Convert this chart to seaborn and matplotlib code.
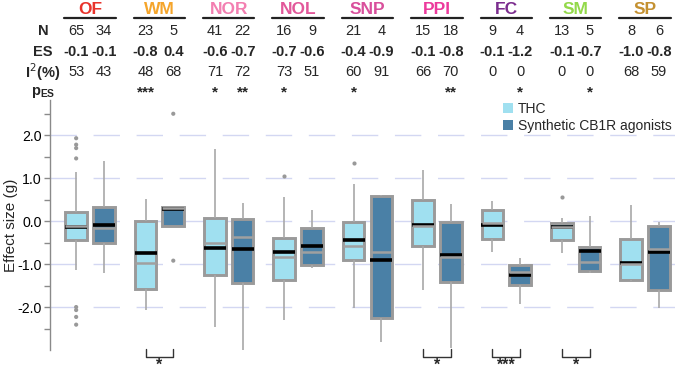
import numpy as np
import pandas as pd
import matplotlib
matplotlib.use("Agg")
import matplotlib.pyplot as plt
import matplotlib.transforms as mtransforms
from matplotlib.patches import Patch
from matplotlib.lines import Line2D
import seaborn as sns

# ---------------- data ----------------
tasks = ["OF", "WM", "NOR", "NOL", "SNP", "PPI", "FC", "SM", "SP"]
task_colors = ["#e8332b", "#f5a52b", "#f37fb1", "#e2589a", "#d9509c",
               "#ec3a9c", "#7b2d8e", "#93d94a", "#c49131"]
groups = ["THC", "Synthetic CB1R agonists"]

n_thc = [65, 23, 41, 16, 21, 15, 9, 13, 8]
n_syn = [34, 5, 22, 9, 4, 18, 4, 5, 6]
es_thc_txt = ["-0.1", "-0.8", "-0.6", "-0.7", "-0.4", "-0.1", "-0.1", "-0.1", "-1.0"]
es_syn_txt = ["-0.1", "0.4", "-0.7", "-0.6", "-0.9", "-0.8", "-1.2", "-0.7", "-0.8"]
i2_thc = [53, 48, 71, 73, 60, 66, 0, 0, 68]
i2_syn = [43, 68, 72, 51, 91, 70, 0, 0, 59]
p_thc = ["", "***", "*", "*", "*", "", "", "", ""]
p_syn = ["", "", "**", "", "", "**", "*", "*", ""]

# box statistics (THC)
thc_lo = [-1.13, -2.06, -2.47, -2.30, -2.02, -1.61, -0.71, -0.74, -1.40]
thc_q1 = [-0.45, -1.58, -1.25, -1.38, -0.90, -0.57, -0.41, -0.45, -1.36]
thc_med = [-0.12, -0.98, -0.50, -0.84, -0.59, -0.12, -0.05, -0.14, -1.00]
thc_q3 = [0.22, 0.01, 0.07, -0.40, -0.01, 0.49, 0.25, -0.04, -0.42]
thc_hi = [1.15, 0.52, 1.68, 0.57, 0.87, 1.18, 0.48, 0.08, 0.38]
thc_es = [-0.14, -0.745, -0.62, -0.72, -0.43, -0.09, -0.08, -0.13, -0.98]

# box statistics (Synthetic CB1R agonists)
syn_lo = [-1.21, -0.12, -3.02, -1.09, -2.82, -2.95, -1.93, -1.21, -2.02]
syn_q1 = [-0.52, -0.12, -1.43, -1.03, -2.26, -1.42, -1.48, -1.17, -1.60]
syn_med = [-0.15, 0.30, -0.36, -0.72, -0.73, -0.83, -1.19, -0.94, -0.65]
syn_q3 = [0.32, 0.32, 0.05, -0.16, 0.59, -0.03, -1.02, -0.60, -0.11]
syn_hi = [1.39, 0.32, 0.42, 0.26, 0.62, 0.40, -0.86, 0.12, -0.01]
syn_es = [-0.08, 0.29, -0.65, -0.59, -0.90, -0.78, -1.26, -0.69, -0.72]

# outliers
out_task = ["OF", "OF", "OF", "OF", "OF", "OF", "OF", "OF", "WM", "WM", "NOL", "SNP", "SM"]
out_group = ["THC"] * 8 + ["Synthetic CB1R agonists"] * 2 + ["THC"] * 3
out_value = [1.46, 1.70, 1.78, 1.93, -2.00, -2.07, -2.23, -2.41, 2.50, -0.92, 1.04, 1.35, 0.57]

# significance between groups
sig_tasks = ["WM", "PPI", "FC", "SM"]
sig_marks = ["*", "*", "***", "*"]

yticks = [-2, -1, 0, 1, 2]
ytick_labels = ["-2.0", "-1.0", "0.0", "1.0", "2.0"]
yticks_minor = [-2.5, -1.5, -0.5, 0.5, 1.5, 2.5]

# ---------------- build frames ----------------
rows = []
for grp, stats in [(groups[0], (thc_lo, thc_q1, thc_med, thc_q3, thc_hi)),
                   (groups[1], (syn_lo, syn_q1, syn_med, syn_q3, syn_hi))]:
    for i, t in enumerate(tasks):
        for arr in stats:
            rows.append({"task": t, "group": grp, "value": arr[i]})
box_df = pd.DataFrame(rows)

es_df = pd.DataFrame({
    "task": tasks * 2,
    "group": [groups[0]] * len(tasks) + [groups[1]] * len(tasks),
    "es": thc_es + syn_es,
})
out_df = pd.DataFrame({"task": out_task, "group": out_group, "value": out_value})

# ---------------- style ----------------
sns.set_theme(style="white")
plt.rcParams["font.family"] = ["Liberation Sans", "DejaVu Sans"]
plt.rcParams["axes.unicode_minus"] = False

c_light = "#a0e0f0"
c_dark = "#4a80a6"
c_gray = "#9a9a9a"
palette = {groups[0]: c_light, groups[1]: c_dark}

W, H = 675, 374
fig = plt.figure(figsize=(W / 100, H / 100), dpi=100)
ax = fig.add_axes([50 / W, 1 - 350 / H, 1 - 50 / W, 250 / H])

sns.boxplot(data=box_df, x="task", y="value", hue="group", order=tasks, hue_order=groups,
            palette=palette, saturation=1, whis=np.inf, gap=0.22, showcaps=False,
            linecolor=c_gray, linewidth=2.1,
            whiskerprops=dict(linewidth=1.2, color="#a8a8a8"),
            medianprops=dict(linewidth=1.8, color="#a0a0a0"),
            legend=False, ax=ax)

sns.stripplot(data=out_df, x="task", y="value", hue="group", order=tasks, hue_order=groups,
              dodge=True, jitter=False, palette={g: "#999999" for g in groups},
              size=3, linewidth=0, legend=False, ax=ax)

sns.pointplot(data=es_df, x="task", y="es", hue="group", order=tasks, hue_order=groups,
              dodge=0.4, linestyle="none", markers="_", errorbar=None,
              palette={g: "black" for g in groups}, markersize=15.5, markeredgewidth=2.6,
              legend=False, ax=ax)

ax.set_xlim(-0.577, 8.432)
ax.set_ylim(-3.0, 2.82)
ax.set_yticks(yticks)
ax.set_yticklabels(ytick_labels)
ax.set_yticks(yticks_minor, minor=True)
ax.tick_params(axis="y", which="both", length=4, width=1, color="#8a8a8a", left=True,
               pad=2, labelsize=10.2, labelcolor="black")
ax.set_xticks([])
ax.set_xlabel("")
ax.set_ylabel("Effect size (g)", fontsize=11)
ax.yaxis.set_label_coords(-0.051, 0.5)
for s in ["top", "right", "bottom"]:
    ax.spines[s].set_visible(False)
ax.spines["left"].set_color("#8a8a8a")
ax.spines["left"].set_linewidth(1.0)
ax.set_axisbelow(True)
ax.grid(axis="y", which="major", color="#d3d7f2", linewidth=1.0, linestyle=(0, (19, 12)))
ax.grid(axis="y", which="minor", visible=False)

# ---------------- header table ----------------
tr = mtransforms.blended_transform_factory(ax.transData, fig.transFigure)
def fy(py):
    return 1 - py / H

off = 0.2
for i, t in enumerate(tasks):
    ax.text(i, fy(9.5), t, transform=tr, ha="center", va="center", fontsize=12.5,
            fontweight="bold", color=task_colors[i], clip_on=False)
    ax.add_line(Line2D([i - 0.37, i + 0.37], [fy(18), fy(18)], transform=tr,
                       color="#222222", linewidth=1.6, clip_on=False))
    for dx, n, es, i2, p in [(-off, n_thc[i], es_thc_txt[i], i2_thc[i], p_thc[i]),
                             (off, n_syn[i], es_syn_txt[i], i2_syn[i], p_syn[i])]:
        ax.text(i + dx, fy(31), str(n), transform=tr, ha="center", va="center",
                fontsize=10.5, clip_on=False)
        ax.text(i + dx, fy(52), es, transform=tr, ha="center", va="center",
                fontsize=10.5, fontweight="bold", clip_on=False)
        ax.text(i + dx, fy(72), str(i2), transform=tr, ha="center", va="center",
                fontsize=10.5, clip_on=False)
        if p:
            ax.text(i + dx, fy(85), p, transform=tr, ha="center", va="top",
                    fontsize=11, fontweight="bold", clip_on=False)

row_labels = ["N", "ES", "I$^{2}$(%)", "p$_{\\mathregular{ES}}$"]
row_y = [31, 52, 72, 93]
for lab, py in zip(row_labels, row_y):
    fig.text(43 / W, fy(py), lab, ha="center", va="center", fontsize=10.5, fontweight="bold")

# ---------------- significance brackets ----------------
for t, m in zip(sig_tasks, sig_marks):
    i = tasks.index(t)
    ax.add_line(Line2D([i - off, i - off, i + off, i + off], [fy(349), fy(357), fy(357), fy(349)],
                       transform=tr, color="#333333", linewidth=1.0, clip_on=False))
    ax.text(i, fy(357.5), m, transform=tr, ha="center", va="top", fontsize=11.5,
            fontweight="bold", clip_on=False)

# ---------------- legend ----------------
handles = [Patch(facecolor=c_light, edgecolor="none", label=groups[0]),
           Patch(facecolor=c_dark, edgecolor="none", label=groups[1])]
fig.legend(handles=handles, loc="upper left", bbox_to_anchor=(503 / W, fy(102)),
           frameon=False, fontsize=10, handlelength=0.7, handleheight=0.7,
           handletextpad=0.35, labelspacing=0.2, borderpad=0, borderaxespad=0)

fig.savefig("out.png", dpi=100)
